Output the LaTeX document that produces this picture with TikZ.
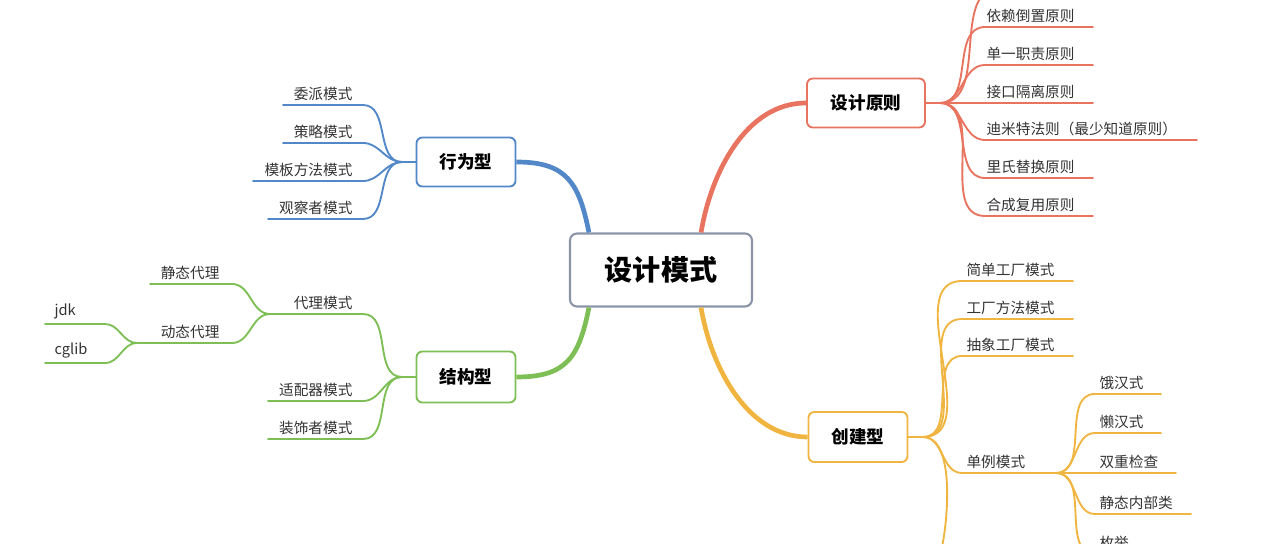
\documentclass[tikz,border=0pt]{standalone}
\usepackage{fontspec}
\setmainfont{Noto Sans CJK SC}
\definecolor{rulered}{HTML}{E8735F}
\definecolor{actblue}{HTML}{5287C8}
\definecolor{strgreen}{HTML}{7DBF55}
\definecolor{creyellow}{HTML}{F0B540}
\definecolor{boxgray}{HTML}{8C95A8}
\tikzset{
  topic/.style={draw=#1,line width=1.6pt,rounded corners=5pt,fill=white,font=\bfseries\fontsize{15}{15}\selectfont,inner sep=0pt},
  leaf/.style={font=\fontsize{12.5}{13}\selectfont,text=black!80,inner sep=2pt},
  wire/.style={draw=#1,line width=1.6pt,line cap=round}
}
\begin{document}
\begin{tikzpicture}[x=0.03cm,y=-0.03cm]
\useasboundingbox (0,0) rectangle (1280,544);

% center
\node[draw=boxgray,line width=1.8pt,rounded corners=6pt,minimum width=182*0.03cm,minimum height=73*0.03cm,font=\bfseries\fontsize{24}{24}\selectfont] (root) at (661,270) {设计模式};

% topics
\node[topic=rulered,minimum width=118*0.03cm,minimum height=49*0.03cm] (rule) at (866,103) {设计原则};
\node[topic=creyellow,minimum width=99*0.03cm,minimum height=50*0.03cm] (cre) at (858,437) {创建型};
\node[topic=actblue,minimum width=99*0.03cm,minimum height=49*0.03cm] (act) at (466,162) {行为型};
\node[topic=strgreen,minimum width=99*0.03cm,minimum height=51*0.03cm] (str) at (466,377) {结构型};

% main branches
\draw[rulered,line width=4pt] (root.north east) ++(-52,0) coordinate (r1) .. controls +(10,-60) and +(-60,0) .. (rule.west);
\draw[creyellow,line width=4pt] (root.south east) ++(-52,0) coordinate (r2) .. controls +(10,60) and +(-60,0) .. (cre.west);
\draw[actblue,line width=4pt] (root.north west) ++(20,0) coordinate (r3) .. controls +(-10,-50) and +(50,0) .. (act.east);
\draw[strgreen,line width=4pt] (root.south west) ++(20,0) coordinate (r4) .. controls +(-10,50) and +(50,0) .. (str.east);

% design principles
\coordinate (fr) at (940,103);
\draw[wire=rulered] (rule.east) -- (fr);
\draw[wire=rulered] (fr) to[out=0,in=180] (1000,-12);
\foreach \i/\y/\e/\t in {1/27/1093/依赖倒置原则,2/65/1093/单一职责原则,3/103/1093/接口隔离原则,
    4/140/1197/迪米特法则（最少知道原则）,5/178/1093/里氏替换原则,6/216/1093/合成复用原则}{
  \coordinate (rs\i) at (985,\y);
  \coordinate (re\i) at (\e,\y);
  \draw[wire=rulered] (fr) to[out=0,in=180] (rs\i) -- (re\i);
  \node[leaf,anchor=south west] (rl\i) at (984,\y-2) {\t};
}

% creational
\coordinate (fc) at (923,437);
\draw[wire=creyellow] (cre.east) -- (fc);
\draw[wire=creyellow] (fc) to[out=0,in=270] (937,550);
\foreach \i/\y/\t in {1/281/简单工厂模式,2/319/工厂方法模式,3/356/抽象工厂模式}{
  \coordinate (cs\i) at (962,\y);
  \coordinate (ce\i) at (1073,\y);
  \draw[wire=creyellow] (fc) to[out=0,in=180] (cs\i) -- (ce\i);
  \node[leaf,anchor=south west] (cl\i) at (964,\y-2) {\t};
}
\coordinate (cs4) at (962,473);
\coordinate (fs) at (1056,473);
\draw[wire=creyellow] (fc) to[out=0,in=180] (cs4) -- (fs);
\node[leaf,anchor=south west] (cl4) at (964,471) {单例模式};
\foreach \i/\y/\e/\t in {1/394/1161/饿汉式,2/433/1161/懒汉式,3/473/1176/双重检查,4/514/1191/静态内部类,5/554/1161/枚举}{
  \coordinate (ss\i) at (1095,\y);
  \coordinate (se\i) at (\e,\y);
  \draw[wire=creyellow] (fs) to[out=0,in=180] (ss\i) -- (se\i);
  \node[leaf,anchor=south west] (sl\i) at (1097,\y-2) {\t};
}

% behavioral
\coordinate (fa) at (402,162);
\draw[wire=actblue] (act.west) -- (fa);
\foreach \i/\y/\s/\t in {1/105/283/委派模式,2/143/283/策略模式,3/181/253/模板方法模式,4/219/268/观察者模式}{
  \coordinate (as\i) at (363,\y);
  \coordinate (ae\i) at (\s,\y);
  \draw[wire=actblue] (fa) to[out=180,in=0] (as\i) -- (ae\i);
  \node[leaf,anchor=south east] (al\i) at (355,\y-2) {\t};
}

% structural
\coordinate (fs2) at (402,377);
\draw[wire=strgreen] (str.west) -- (fs2);
\foreach \i/\y/\t in {2/401/适配器模式,3/439/装饰者模式}{
  \coordinate (ts\i) at (363,\y);
  \coordinate (te\i) at (268,\y);
  \draw[wire=strgreen] (fs2) to[out=180,in=0] (ts\i) -- (te\i);
  \node[leaf,anchor=south east] (tl\i) at (355,\y-2) {\t};
}
\coordinate (ts1) at (363,314);
\coordinate (fp) at (270,314);
\draw[wire=strgreen] (fs2) to[out=180,in=0] (ts1) -- (fp);
\node[leaf,anchor=south east] (tl1) at (355,312) {代理模式};
\coordinate (ps1) at (232,284); \coordinate (pe1) at (150,284);
\coordinate (ps2) at (232,343); \coordinate (fd) at (137,343);
\draw[wire=strgreen] (fp) to[out=180,in=0] (ps1) -- (pe1);
\draw[wire=strgreen] (fp) to[out=180,in=0] (ps2) -- (fd);
\node[leaf,anchor=south east] (pl1) at (222,282) {静态代理};
\node[leaf,anchor=south east] (pl2) at (222,341) {动态代理};
\foreach \i/\y/\t in {1/324/jdk,2/363/cglib}{
  \coordinate (ds\i) at (105,\y);
  \coordinate (de\i) at (45,\y);
  \draw[wire=strgreen] (fd) to[out=180,in=0] (ds\i) -- (de\i);
  \node[leaf,anchor=south west] (dl\i) at (52,\y-2) {\t};
}
\end{tikzpicture}
\end{document}
